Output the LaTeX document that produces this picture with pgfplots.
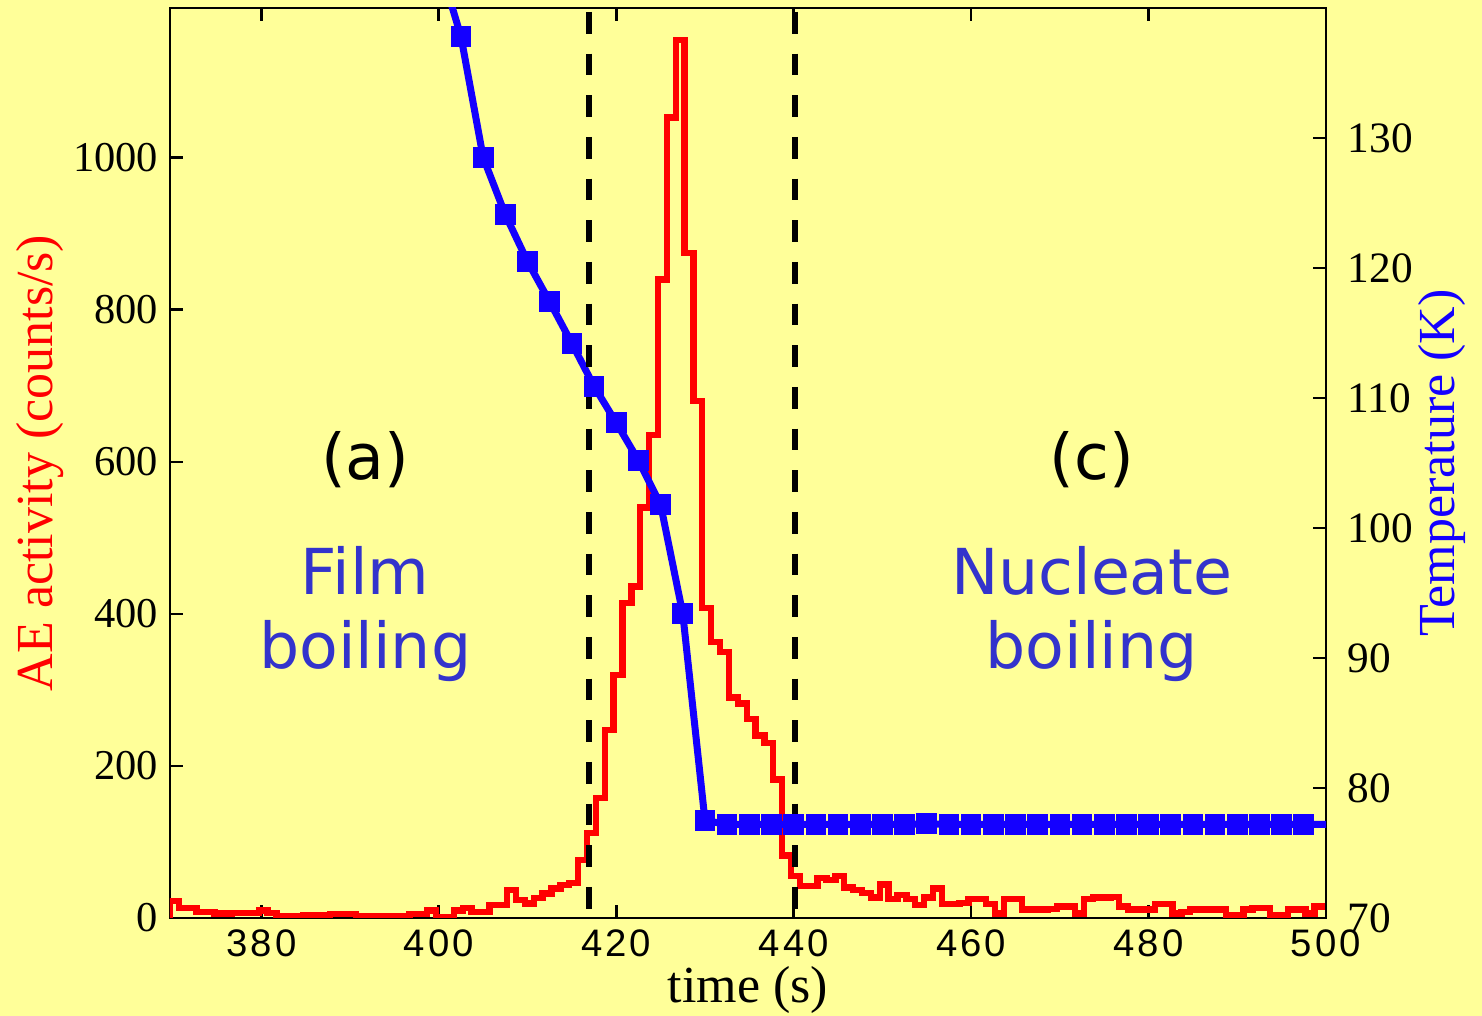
\documentclass[border=0pt]{standalone}
\usepackage{fontspec}
\setmainfont{Liberation Serif}
\newfontfamily\sansfont{DejaVu Sans}
\newfontfamily\xtickfont[LetterSpace=8]{Liberation Sans}
\usepackage{pgfplots}
\usepackage{pgfplotstable}
\pgfplotsset{compat=1.18}
\definecolor{bgy}{RGB}{255,255,153}
\definecolor{cred}{RGB}{255,0,0}
\definecolor{cblue}{RGB}{20,0,255}
\definecolor{tblue}{RGB}{51,51,204}

\pgfplotstableread{
t v
369.7 0
369.7 22
370.7 13
371.7 13
372.7 8
373.7 8
374.7 6
375.7 6
376.7 7
377.7 7
378.7 7
379.7 10
380.7 7
381.7 2
382.7 2
383.7 2
384.7 4
385.7 4
386.7 4
387.7 5
388.7 5
389.7 5
390.7 2
391.7 2
392.7 2
393.7 2
394.7 2
395.7 2
396.7 5
397.7 5
398.7 10
399.7 1
400.7 1
401.7 10
402.7 13
403.7 8
404.7 8
405.7 17
406.7 17
407.7 37
408.7 24
409.7 19
410.7 26
411.7 32
412.7 39
413.7 43
414.7 46
415.7 76
416.7 112
417.7 158
418.7 247
419.7 320
420.7 414
421.7 436
422.7 540
423.7 635
424.7 840
425.7 1053
426.7 1155
427.7 875
428.7 680
429.7 408
430.7 363
431.7 350
432.7 290
433.7 282
434.7 262
435.7 240
436.7 230
437.7 182
438.7 82
439.7 55
440.7 42
441.7 42
442.7 53
443.7 50
444.7 55
445.7 40
446.7 37
447.7 33
448.7 27
449.7 44
450.7 25
451.7 30
452.7 25
453.7 17
454.7 27
455.7 39
456.7 18
457.7 18
458.7 20
459.7 25
460.7 25
461.7 18
462.7 6
463.7 25
464.7 25
465.7 11
466.7 11
467.7 11
468.7 12
469.7 15
470.7 15
471.7 6
472.7 25
473.7 27
474.7 27
475.7 28
476.7 15
477.7 11
478.7 11
479.7 11
480.7 18
481.7 18
482.7 6
483.7 8
484.7 11
485.7 11
486.7 11
487.7 11
488.7 4
489.7 4
490.7 11
491.7 13
492.7 13
493.7 4
494.7 4
495.7 11
496.7 11
497.7 6
498.7 15
499.7 15
500 15
}\aedata

\pgfplotstableread{
t T
400 143.5
402.5 137.8
405 128.5
407.5 124.1
410 120.5
412.5 117.4
415 114.2
417.5 110.9
420 108.1
422.5 105.2
425 101.8
427.5 93.4
430 77.5
432.5 77.2
435 77.2
437.5 77.2
440 77.2
442.5 77.2
445 77.2
447.5 77.2
450 77.2
452.5 77.2
455 77.25
457.5 77.2
460 77.2
462.5 77.2
465 77.2
467.5 77.2
470 77.2
472.5 77.2
475 77.2
477.5 77.2
480 77.2
482.5 77.2
485 77.2
487.5 77.2
490 77.2
492.5 77.2
495 77.2
497.5 77.2
500 77.2
}\tempdata

\begin{document}
\begin{tikzpicture}
\fill[bgy] (-51pt,-29.4pt) rectangle (393.6pt,275.4pt);
\begin{axis}[
  scale only axis, width=346.8pt, height=273pt,
  xmin=369.7, xmax=500, ymin=0, ymax=1197,
  xtick={380,400,...,500}, ytick={0,200,...,1000},
  ytick pos=left, xticklabel pos=bottom,
  tick align=inside,
  axis background/.style={fill=bgy},
  axis line style={line width=0.8pt},
  major tick style={line width=0.8pt, black},
  major tick length=4pt,
  /pgf/number format/assume math mode=true,
  /pgf/number format/1000 sep={},
  yticklabel style={font=\fontsize{12.75}{15}\selectfont},
  xticklabel style={font=\fontsize{11.5}{13}\xtickfont},
  xlabel={time (s)}, ylabel={AE activity (counts/s)},
  xlabel style={font=\fontsize{15.6}{18}\selectfont, at={(axis description cs:0.5,-0.079)}, anchor=center},
  ylabel style={font=\fontsize{15.6}{18}\selectfont, text=cred, at={(axis description cs:-0.1125,0.5)}, anchor=center},
]
\addplot[const plot, cred, line width=1.9pt, line join=miter] table[x=t,y=v] {\aedata};
\end{axis}
\begin{axis}[
  scale only axis, width=346.8pt, height=273pt,
  xmin=369.7, xmax=500, ymin=70, ymax=140,
  axis y line*=right, axis x line=none,
  ytick={70,80,...,130},
  tick align=inside,
  axis line style={line width=0.8pt},
  major tick style={line width=0.8pt, black},
  major tick length=4pt,
  /pgf/number format/assume math mode=true,
  yticklabel style={font=\fontsize{13}{15}\selectfont, xshift=3pt},
  ylabel={Temperature (K)},
  ylabel style={font=\fontsize{15.6}{18}\selectfont, text=cblue, at={(axis description cs:1.1003,0.5)}, anchor=center},
]
\addplot[cblue, line width=2.1pt, no marks] table[x=t,y=T] {\tempdata};
\addplot[cblue, only marks, mark=square*, mark size=2.9pt, restrict x to domain=401:499] table[x=t,y=T] {\tempdata};
\addplot[black, line width=1.8pt, dash pattern=on 6.5pt off 6pt] coordinates {(416.9,139.7) (416.9,70)};
\addplot[black, line width=1.8pt, dash pattern=on 6.5pt off 6pt] coordinates {(440.2,139.7) (440.2,70)};
\node[anchor=base, font=\fontsize{19}{23}\sansfont, text=black] at (axis cs:391.7,103.7) {(a)};
\node[anchor=base, font=\fontsize{19}{23}\sansfont, text=tblue] at (axis cs:391.7,94.85) {Film};
\node[anchor=base, font=\fontsize{19}{23}\sansfont, text=tblue] at (axis cs:391.7,89.23) {boiling};
\node[anchor=base, font=\fontsize{19}{23}\sansfont, text=black] at (axis cs:473.6,103.7) {(c)};
\node[anchor=base, font=\fontsize{19}{23}\sansfont, text=tblue] at (axis cs:473.6,94.85) {Nucleate};
\node[anchor=base, font=\fontsize{19}{23}\sansfont, text=tblue] at (axis cs:473.6,89.23) {boiling};
\end{axis}
\pgfresetboundingbox
\path[use as bounding box] (-51pt,-29.4pt) rectangle (393.6pt,275.4pt);
\end{tikzpicture}
\end{document}
